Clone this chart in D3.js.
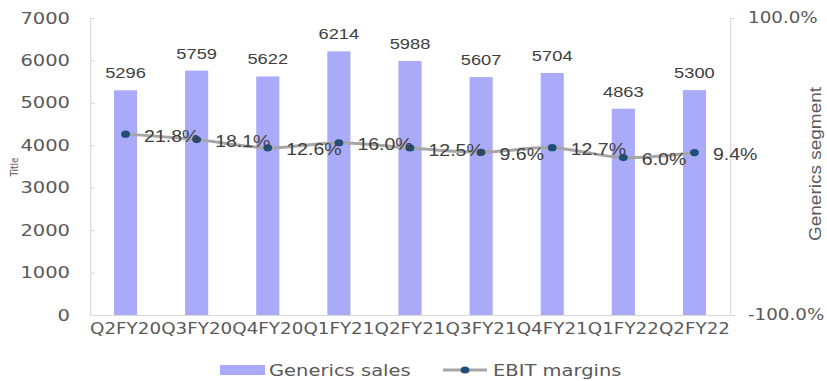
<!DOCTYPE html>
<html>
<head>
<meta charset="utf-8">
<script src="https://cdn.jsdelivr.net/npm/d3@7"></script>
<style>
  html, body { margin: 0; padding: 0; background: #fff; }
  svg { display: block; }
</style>
</head>
<body>
<div id="chart"></div>
<script>
// ---- data ----
const categories = ["Q2FY20", "Q3FY20", "Q4FY20", "Q1FY21", "Q2FY21", "Q3FY21", "Q4FY21", "Q1FY22", "Q2FY22"];
const genericsSales = [5296, 5759, 5622, 6214, 5988, 5607, 5704, 4863, 5300];
const ebitMargins = [21.8, 18.1, 12.6, 16.0, 12.5, 9.6, 12.7, 6.0, 9.4];
const leftTicks = [0, 1000, 2000, 3000, 4000, 5000, 6000, 7000];
const rightTicks = [-100, 100];
const seriesNames = ["Generics sales", "EBIT margins"];

// ---- layout ----
const W = 827, H = 381;
const SX = 1.22; // horizontal stretch of the whole picture
const sx = v => v / SX;

const svg = d3.select("#chart").append("svg").attr("width", W).attr("height", H);
const g = svg.append("g").attr("transform", `scale(${SX},1)`);

const x = d3.scaleBand().domain(categories).range([sx(90), sx(730)]).padding(0);
const yL = d3.scaleLinear().domain([0, 7000]).range([315, 18]);
const yR = d3.scaleLinear().domain([-100, 100]).range([315, 18]);
const cx = d => x(d) + x.bandwidth() / 2;
const barW = x.bandwidth() * 0.325;

const axisColor = "#d9d9d9";
const textColor = "#595959";
const labelColor = "#404040";
const barColor = "#a9abf8";
const lineColor = "#a6a6a6";
const markerColor = "#1f4e79";

// left axis
const axL = g.append("g").attr("transform", `translate(${sx(90)},0)`)
  .call(d3.axisLeft(yL).tickValues(leftTicks).tickSizeInner(-sx(5)).tickSizeOuter(0).tickPadding(sx(20)).tickFormat(d => String(d)));
axL.select(".domain").attr("stroke", axisColor);
axL.selectAll(".tick line").attr("stroke", axisColor);
axL.selectAll("text").attr("fill", textColor).style("font-family", "DejaVu Sans").style("font-size", "16px");

// right axis
const axR = g.append("g").attr("transform", `translate(${sx(730)},0)`)
  .call(d3.axisRight(yR).tickValues(rightTicks).tickSizeInner(sx(5)).tickSizeOuter(0).tickPadding(sx(13)).tickFormat(d => d.toFixed(1) + "%"));
axR.select(".domain").attr("stroke", axisColor);
axR.selectAll(".tick line").attr("stroke", axisColor);
axR.selectAll("text").attr("fill", textColor).style("font-family", "DejaVu Sans").style("font-size", "15px");

// bottom axis
const axB = g.append("g").attr("transform", `translate(0,315)`)
  .call(d3.axisBottom(x).tickSize(0).tickPadding(8));
axB.select(".domain").attr("stroke", axisColor);
axB.selectAll("text").attr("fill", textColor).style("font-family", "DejaVu Sans").style("font-size", "15px");

// bars
g.append("g").selectAll("rect").data(categories).join("rect")
  .attr("x", d => cx(d) - barW / 2)
  .attr("width", barW)
  .attr("y", (d, i) => yL(genericsSales[i]))
  .attr("height", (d, i) => yL(0) - yL(genericsSales[i]))
  .attr("fill", barColor);

// bar labels
g.append("g").selectAll("text").data(categories).join("text")
  .attr("x", d => cx(d))
  .attr("y", (d, i) => yL(genericsSales[i]) - 12)
  .attr("text-anchor", "middle")
  .attr("fill", labelColor)
  .style("font-family", "Liberation Sans, Arial, sans-serif")
  .style("font-size", "15px")
  .text((d, i) => genericsSales[i]);

// line
const line = d3.line().x((d, i) => cx(categories[i])).y(d => yR(d)).curve(d3.curveCatmullRom.alpha(0.5));
g.append("path").datum(ebitMargins).attr("d", line)
  .attr("fill", "none").attr("stroke", lineColor).attr("stroke-width", 3);

g.append("g").selectAll("circle").data(ebitMargins).join("circle")
  .attr("cx", (d, i) => cx(categories[i]))
  .attr("cy", d => yR(d))
  .attr("r", 3.6)
  .attr("fill", markerColor);

// line labels
g.append("g").selectAll("text").data(ebitMargins).join("text")
  .attr("x", (d, i) => cx(categories[i]) + sx(18.5))
  .attr("y", d => yR(d) + 2)
  .attr("dy", "0.35em")
  .attr("fill", labelColor)
  .style("font-family", "Liberation Sans, Arial, sans-serif")
  .style("font-size", "16px")
  .text(d => d.toFixed(1) + "%");

// axis titles
g.append("text")
  .attr("transform", `translate(${sx(18)},167) rotate(-90)`)
  .attr("text-anchor", "middle")
  .attr("fill", textColor)
  .style("font-family", "DejaVu Sans")
  .style("font-size", "9px")
  .text("Title");

g.append("text")
  .attr("transform", `translate(${sx(821)},164) rotate(-90) scale(1,0.72)`)
  .attr("text-anchor", "middle")
  .attr("fill", textColor)
  .style("font-family", "Liberation Sans, Arial, sans-serif")
  .style("font-size", "19px")
  .text("Generics segment");

// legend
const leg = g.append("g");
leg.append("rect").attr("x", sx(220)).attr("y", 365).attr("width", sx(45)).attr("height", 10).attr("fill", barColor);
leg.append("text").attr("x", sx(269)).attr("y", 376).attr("fill", textColor)
  .style("font-family", "DejaVu Sans").style("font-size", "16px").text(seriesNames[0]);
leg.append("line").attr("x1", sx(443)).attr("x2", sx(487)).attr("y1", 370).attr("y2", 370)
  .attr("stroke", lineColor).attr("stroke-width", 3);
leg.append("circle").attr("cx", sx(465)).attr("cy", 370).attr("r", 3.6).attr("fill", markerColor);
leg.append("text").attr("x", sx(493)).attr("y", 376).attr("fill", textColor)
  .style("font-family", "DejaVu Sans").style("font-size", "16px").text(seriesNames[1]);
</script>
</body>
</html>
